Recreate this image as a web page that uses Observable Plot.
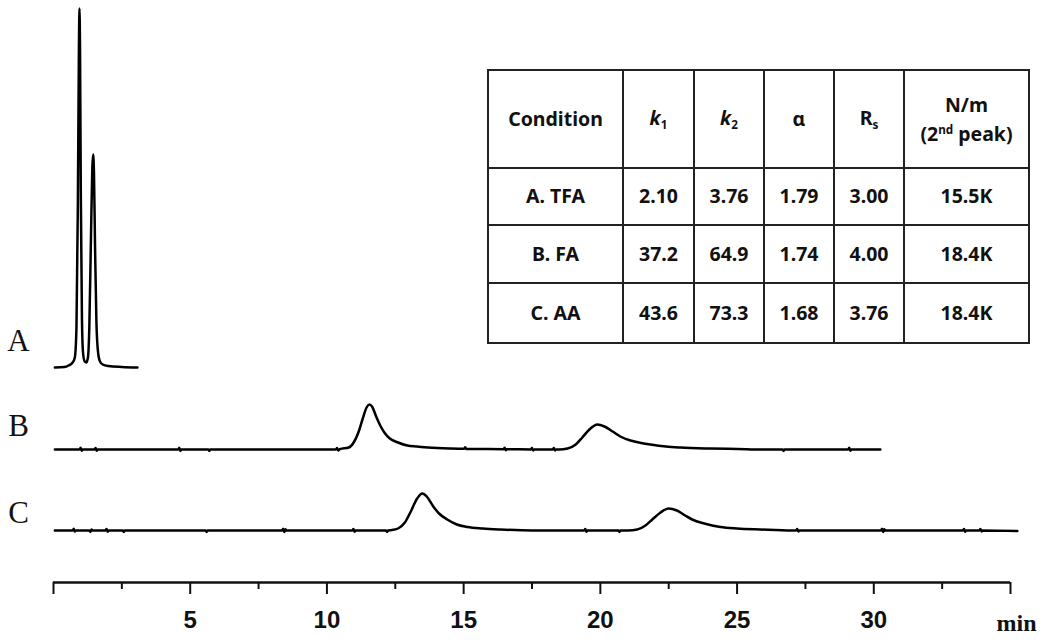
<!DOCTYPE html>
<html>
<head>
<meta charset="utf-8">
<script src="https://cdn.jsdelivr.net/npm/d3@7"></script>
<script src="https://cdn.jsdelivr.net/npm/@observablehq/plot@0.6"></script>
<style>
  html, body { margin: 0; padding: 0; background: #fff; }
  #wrap { position: relative; width: 1050px; height: 643px; overflow: hidden; }
  #wrap svg { position: absolute; left: 0; top: 0; }
  table.res {
    position: absolute; left: 487px; top: 69px;
    border-collapse: collapse; table-layout: fixed;
    font-family: "Noto Sans", "Open Sans", sans-serif; font-weight: bold; font-size: 19.5px;
    color: #111; background: #fff;
  }
  table.res td { border: 2px solid #222; text-align: center; vertical-align: middle; padding: 0; line-height: 1.15; }
  table.res td.two { line-height: 1.5; }
  table.res sub { font-size: 0.6em; vertical-align: -0.35em; }
  table.res sup { font-size: 0.6em; vertical-align: 0.6em; line-height: 0; }
</style>
</head>
<body>
<div id="wrap"></div>
<script>
// ---- chromatogram data (time in min, detector response above each trace's baseline) ----
const timeA = [0.05, 0.4, 0.55, 0.7, 0.78, 0.84, 0.89, 0.93, 0.95, 0.97, 1.0, 1.04, 1.08, 1.14, 1.2, 1.26, 1.31, 1.37, 1.42, 1.45, 1.48, 1.52, 1.57, 1.63, 1.7, 1.8, 2.0, 2.5, 3.07];
const respA = [0, 0.5, 2, 5, 10, 40, 160, 320, 359, 320, 170, 50, 15, 6, 5, 10, 40, 130, 200, 213, 195, 120, 45, 15, 6, 3, 1.5, 0.5, 0];

const timeB = [0.05, 0.95, 0.99, 1.03, 1.07, 1.5, 1.54, 1.58, 1.62, 3.5, 4.56, 4.6, 4.64, 4.68, 5.66, 5.7, 5.74, 7.8, 10.33, 10.37, 10.41, 10.47,
  10.8, 11.0, 11.15, 11.3, 11.45, 11.55, 11.65, 11.8, 11.95, 12.1, 12.3, 12.6, 12.94, 13.3, 13.7, 14.5, 15.02, 15.06, 15.1, 15.5,
  16.46, 16.5, 16.54, 16.58, 17.46, 17.5, 17.54, 17.58, 18.26, 18.3, 18.34, 18.38, 18.5,
  18.8, 19.1, 19.34, 19.6, 19.89, 20.15, 20.45, 20.73, 21.1, 21.5, 21.83, 22.4, 22.93, 24.0, 25.0, 26.0,
  26.66, 26.7, 26.74, 29.06, 29.1, 29.14, 29.18, 30.24];
const respB = [0, 0, 1.8, -1.2, 0, 0, 1.5, -1.2, 0, 0, 0, 1.8, -1.5, 0, 0, -1.5, 0, 0, 0, 1.5, -1, 0.3,
  2, 8, 17, 30, 42, 45, 43, 33, 24, 17, 11, 7, 4, 3, 2, 1, 0.7, 2.2, 0.5, 0.5,
  0.3, 1.8, -0.8, 0.2, 0.1, 1.5, -1, 0, 0, 1.5, -1, 0, 0,
  1, 5, 12, 20, 25, 23, 18, 13, 9, 6.5, 5, 3, 2, 1, 0.5, 0,
  0, -1.5, 0, 0, 1.8, -1.2, 0, 0];

const timeC = [0.05, 0.7, 0.74, 0.78, 0.82, 1.31, 1.35, 1.39, 1.43, 1.9, 1.94, 1.98, 2.02, 2.53, 2.57, 2.61, 5.56, 5.6, 5.64,
  8.36, 8.4, 8.44, 8.48, 8.52, 10.93, 10.97, 11.01, 11.05, 12.16, 12.2, 12.24, 12.35,
  12.6, 12.85, 13.05, 13.3, 13.49, 13.65, 13.89, 14.1, 14.4, 14.75, 15.14, 15.7, 16.34, 17.5,
  19.41, 19.45, 19.49, 19.53, 20.66, 20.7, 20.74, 21.0,
  21.35, 21.65, 21.9, 22.2, 22.49, 22.8, 23.1, 23.36, 23.8, 24.39, 25.0, 25.85, 27.0,
  27.16, 27.2, 27.24, 27.28, 30.26, 30.3, 30.34, 30.38, 30.42, 31.0, 33.26, 33.3, 33.34, 33.38, 33.86, 33.9, 33.94, 33.98, 35.25];
const respC = [0, 0, 1.8, -1, 0, 0, -1.5, 1, 0, 0, 1.5, -1.2, 0, 0, -1.5, 0, 0, -1.5, 0,
  0, 1.8, -1.5, 1.2, 0, 0, 1.5, -1.2, 0, 0, -1.5, 0, 0.3,
  2, 8, 18, 32, 37, 34, 24, 17, 11, 6, 3.5, 2, 1, 0,
  0, 1.5, -1.2, 0, 0, -1.5, 0, 0,
  1, 5, 11, 18, 22, 20, 15, 11, 7, 3.5, 2, 1, 0,
  0, 1.5, -1, 0, 0, 1.8, -1.5, 1.2, 0, 0, 0, 1.5, -1.2, 0, 0, 1.5, -1, 0, -0.5];

const traceNames = ["A", "B", "C"];
const traceOffsets = [163, 81, 0];          // vertical stacking of the three chromatograms
const labelDy = [-39, -36, -30];

// ---- axis ticks ----
const majorTicks = [0, 5, 10, 15, 20, 25, 30, 35];
const minorTicks = [2.5, 7.5, 12.5, 17.5, 22.5, 27.5, 32.5];
const axisUnit = "min";

// ---- table ----
const conditions = ["A. TFA", "B. FA", "C. AA"];
const k1Values = ["2.10", "37.2", "43.6"];
const k2Values = ["3.76", "64.9", "73.3"];
const alphaValues = ["1.79", "1.74", "1.68"];
const rsValues = ["3.00", "4.00", "3.76"];
const plateValues = ["15.5K", "18.4K", "18.4K"];

// build rows for Plot
const series = [[timeA, respA], [timeB, respB], [timeC, respC]];
const rows = [];
series.forEach(([ts, vs], i) => {
  ts.forEach((t, j) => rows.push({trace: traceNames[i], t, v: vs[j] + traceOffsets[i]}));
});
const labels = traceNames.map((n, i) => ({name: n, y: traceOffsets[i], dy: labelDy[i]}));

const chart = Plot.plot({
  width: 1050,
  height: 643,
  marginLeft: 53,
  marginRight: 40,
  marginTop: 0,
  marginBottom: 61,
  x: {domain: [0, 35], label: null},
  y: {domain: [-52, 530], axis: null, label: null},
  style: {background: "transparent", overflow: "visible"},
  marks: [
    Plot.ruleY([-52], {stroke: "#111", strokeWidth: 2.5}),
    Plot.axisX(majorTicks, {
      label: null,
      tickSize: 12, tickPadding: 16, strokeWidth: 2, stroke: "#111",
      tickFormat: d => (d > 0 && d < 35 ? String(d) : ""),
      fontSize: 24, fontWeight: "bold", fontFamily: "Liberation Sans, Arial, sans-serif", fill: "#111"
    }),
    Plot.axisX(minorTicks, {label: null, tickSize: 7, strokeWidth: 2, stroke: "#111", tickFormat: () => ""}),
    Plot.text([axisUnit], {
      frameAnchor: "bottom-right", text: d => d, dx: 6, dy: 31,
      textAnchor: "middle", lineAnchor: "top",
      fontSize: 24, fontWeight: "bold", fontFamily: "Liberation Serif, Times New Roman, serif", fill: "#111"
    }),
    Plot.line(rows, {x: "t", y: "v", z: "trace", curve: "monotone-x", stroke: "#000", strokeWidth: 2.5, strokeLinejoin: "round"}),
    ...labels.map(l => Plot.text([l], {
      y: "y", frameAnchor: "left", text: "name", dx: -35, dy: l.dy,
      textAnchor: "middle", lineAnchor: "top",
      fontSize: 31, fontFamily: "Liberation Serif, Times New Roman, serif", fill: "#111"
    }))
  ]
});
document.getElementById("wrap").appendChild(chart);

// table overlay
const colWidths = [135, 71, 70, 70, 70, 125];
const rowHeights = [98, 57, 58, 60];
const table = document.createElement("table");
table.className = "res";
const colgroup = document.createElement("colgroup");
colWidths.forEach(w => { const c = document.createElement("col"); c.style.width = w + "px"; colgroup.appendChild(c); });
table.appendChild(colgroup);
const header = ["Condition", "<i>k</i><sub>1</sub>", "<i>k</i><sub>2</sub>", "α", "R<sub>s</sub>", "N/m<br>(2<sup>nd</sup> peak)"];
const trH = document.createElement("tr");
trH.style.height = rowHeights[0] + "px";
header.forEach((h, i) => {
  const td = document.createElement("td");
  td.innerHTML = h;
  if (i === header.length - 1) td.className = "two";
  trH.appendChild(td);
});
table.appendChild(trH);
conditions.forEach((c, i) => {
  const tr = document.createElement("tr");
  tr.style.height = rowHeights[i + 1] + "px";
  [c, k1Values[i], k2Values[i], alphaValues[i], rsValues[i], plateValues[i]].forEach(v => {
    const td = document.createElement("td"); td.textContent = v; tr.appendChild(td);
  });
  table.appendChild(tr);
});
document.getElementById("wrap").appendChild(table);
</script>
</body>
</html>
